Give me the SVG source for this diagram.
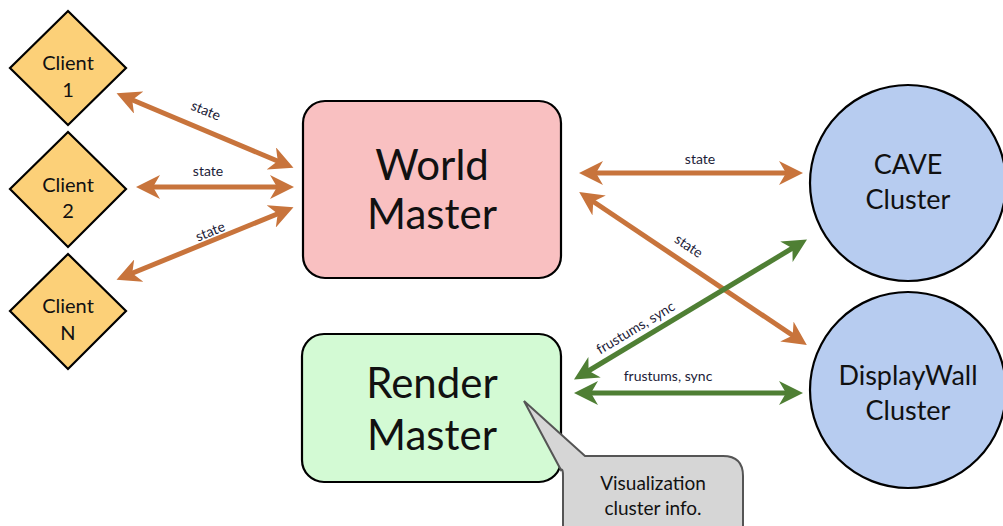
<svg xmlns="http://www.w3.org/2000/svg" width="1003" height="526" viewBox="0 0 1003 526">
<style>
.node{stroke:#000;stroke-width:2.2}
.diamond{fill:#fcd078}
.t{font-family:Lato,"Open Sans","Liberation Sans",sans-serif;fill:#111;text-anchor:middle}
.lbl{font-family:Lato,"Open Sans","Liberation Sans",sans-serif;fill:#1c1c38;text-anchor:middle;font-size:14px}
.or{stroke:#c8743c;stroke-width:5;fill:none;marker-start:url(#ao);marker-end:url(#ao)}
.gr{stroke:#4f7f34;stroke-width:5;fill:none;marker-start:url(#ag);marker-end:url(#ag)}
</style>
<defs>
<marker id="ao" viewBox="0 0 24 24" refX="17" refY="12" markerWidth="24" markerHeight="24" markerUnits="userSpaceOnUse" orient="auto-start-reverse"><path d="M0 0 L24 12 L0 24 L7 12 Z" fill="#c8743c"/></marker>
<marker id="ag" viewBox="0 0 24 24" refX="17" refY="12" markerWidth="24" markerHeight="24" markerUnits="userSpaceOnUse" orient="auto-start-reverse"><path d="M0 0 L24 12 L0 24 L7 12 Z" fill="#4f7f34"/></marker>
</defs>
<rect width="1003" height="526" fill="#fff"/>
<g id="connectors">
<line class="or" x1="123" y1="96" x2="287" y2="165"/>
<line class="or" x1="143" y1="187" x2="287" y2="187"/>
<line class="or" x1="123" y1="277" x2="287" y2="210"/>
<line class="or" x1="586" y1="173" x2="796" y2="173"/>
<line class="or" x1="585" y1="196" x2="801" y2="341"/>
<line class="gr" x1="801" y1="243" x2="580" y2="376"/>
<line class="gr" x1="581" y1="393" x2="796" y2="393"/>
<text class="lbl" transform="translate(204,115) rotate(22.5)">state</text>
<text class="lbl" x="208" y="176">state</text>
<text class="lbl" transform="translate(212,236) rotate(-22)">state</text>
<text class="lbl" x="700" y="164">state</text>
<text class="lbl" transform="translate(686,250) rotate(34)">state</text>
<text class="lbl" transform="translate(638,332) rotate(-31)">frustums, sync</text>
<text class="lbl" x="668" y="381">frustums, sync</text>
</g>
<g id="client1"><polygon class="node diamond" points="68,11 126,68 68,125 10,68"/><text class="t" font-size="20" x="68" y="70">Client</text><text class="t" font-size="20" x="68" y="97">1</text></g>
<g id="client2"><polygon class="node diamond" points="68,132 126,189 68,247 10,189"/><text class="t" font-size="20" x="68" y="192">Client</text><text class="t" font-size="20" x="68" y="218">2</text></g>
<g id="clientN"><polygon class="node diamond" points="68,254 126,311 68,369 10,311"/><text class="t" font-size="20" x="68" y="313">Client</text><text class="t" font-size="20" x="68" y="340">N</text></g>
<g id="world"><rect class="node" x="303" y="101" width="258" height="177" rx="22" fill="#f9c0c1"/><text class="t" font-size="42" x="432" y="180">World</text><text class="t" font-size="42" x="432" y="229">Master</text></g>
<g id="render"><rect class="node" x="302" y="334" width="259" height="148" rx="22" fill="#d3fad4"/><text class="t" font-size="42" x="432" y="398">Render</text><text class="t" font-size="42" x="432" y="450">Master</text></g>
<g id="cave"><circle class="node" cx="908" cy="183" r="98" fill="#b7ccf0"/><text class="t" font-size="27" x="908" y="174">CAVE</text><text class="t" font-size="27" x="908" y="209">Cluster</text></g>
<g id="displaywall"><circle class="node" cx="908" cy="390" r="98" fill="#b7ccf0"/><text class="t" font-size="27" x="908" y="385">DisplayWall</text><text class="t" font-size="27" x="908" y="420">Cluster</text></g>
<g id="callout"><path d="M585 456 L723 456 Q743 456 743 476 L743 540 L563 540 L563 476 Q563 468 561 470 L524 401 Z" fill="#d6d6d6" stroke="#555" stroke-width="2"/><text class="t" font-size="19" x="653" y="490">Visualization</text><text class="t" font-size="19" x="653" y="515">cluster info.</text></g>
</svg>
